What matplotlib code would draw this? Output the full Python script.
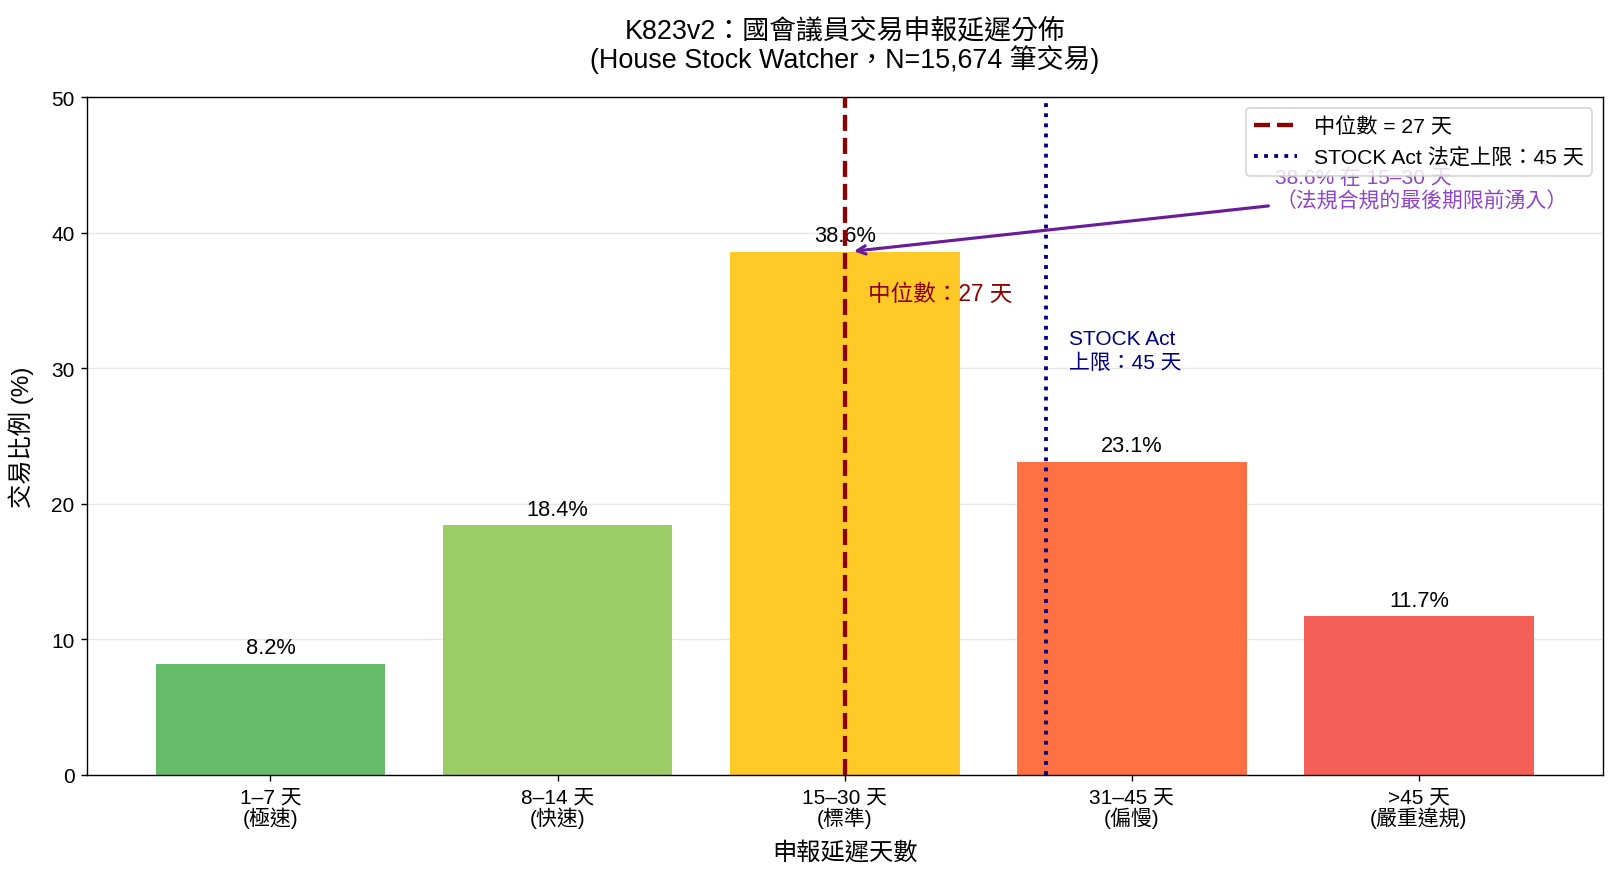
import matplotlib
matplotlib.use("Agg")
import matplotlib.pyplot as plt

plt.rcParams['font.family'] = ['Liberation Sans', 'Noto Sans CJK TC']

categories = ['1–7 天\n(極速)', '8–14 天\n(快速)', '15–30 天\n(標準)', '31–45 天\n(偏慢)', '>45 天\n(嚴重違規)']
shares = [8.2, 18.4, 38.6, 23.1, 11.7]
median_pos = 2.0      # 27 天 落在 15–30 天
stock_pos = 2.7       # 45 天 上限

colors = ['#66bb6a', '#9ccc65', '#ffca28', '#ff7043', '#f45f58']

fig = plt.figure(figsize=(16.18 / 1.25, 8.79 / 1.25), dpi=125)
ax = fig.add_axes([0.0536, 0.1172, 0.9369, 0.7713])

x = list(range(len(categories)))
bars = ax.bar(x, shares, width=0.8, color=colors, zorder=2)
for b, v in zip(bars, shares):
    ax.text(b.get_x() + b.get_width() / 2, v + 0.4, f'{v}%', ha='center', va='bottom', fontsize=12.5)

ax.axvline(median_pos, color='darkred', linestyle='--', linewidth=2.5, label='中位數 = 27 天', zorder=3)
ax.axvline(stock_pos, color='navy', linestyle=':', linewidth=2.2, label='STOCK Act 法定上限：45 天', zorder=3)

ax.text(median_pos + 0.08, 35.5, '中位數：27 天', color='darkred', fontsize=13, va='center')
ax.text(stock_pos + 0.08, 31.3, 'STOCK Act\n上限：45 天', color='navy', fontsize=12, va='center', linespacing=1.25)

ax.annotate('38.6% 在 15–30 天\n（法規合規的最後期限前湧入）', xy=(2.02, 38.6), xytext=(3.5, 43.2),
            ha='left', va='center', color='#8e44c8', fontsize=12, linespacing=1.2,
            arrowprops=dict(arrowstyle='->', color='#6a1b9a', lw=1.8))

ax.set_ylim(0, 50)
ax.set_xticks(x)
ax.set_xticklabels(categories, fontsize=12, linespacing=1.0)
ax.tick_params(axis='y', labelsize=12)
ax.set_xlabel('申報延遲天數', fontsize=14, labelpad=8)
ax.set_ylabel('交易比例 (%)', fontsize=14, labelpad=10)
ax.set_title('K823v2：國會議員交易申報延遲分佈\n(House Stock Watcher，N=15,674 筆交易)', fontsize=15.5, pad=17, linespacing=1.05)
ax.yaxis.grid(True, alpha=0.3, zorder=0)
ax.set_axisbelow(True)
ax.legend(loc='upper right', fontsize=12.2)

fig.savefig('out.png')
